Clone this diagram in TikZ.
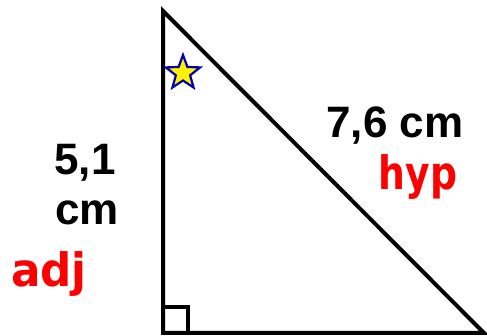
\documentclass[tikz,border=0pt]{standalone}
\usepackage{fontspec}
\setmainfont{Liberation Sans}
\newfontfamily\handfont{DejaVu Sans}
\usetikzlibrary{shapes.geometric}
\begin{document}
\begin{tikzpicture}[x=1pt,y=-1pt,
  side/.style={line width=4pt, line join=miter},
  measure/.style={font=\fontsize{44}{48}\selectfont\bfseries, inner sep=0pt, anchor=base},
  hand/.style={font=\fontsize{46}{50}\handfont\bfseries, text=red, inner sep=0pt, anchor=base}]
\useasboundingbox (0,0) rectangle (487,336);
\fill[white] (0,0) rectangle (487,336);
\coordinate (A) at (163,11);
\coordinate (B) at (163,333);
\coordinate (C) at (484,333);
\draw[side] (A) -- (B) -- (C) -- cycle;
\coordinate (R1) at (163,307);
\coordinate (R2) at (188,307);
\coordinate (R3) at (188,333);
\draw[line width=3.5pt] (R1) -- (R2) -- (R3);
\node[star, star points=5, star point ratio=2.4, minimum size=36pt, inner sep=0pt,
  draw=blue!70!black, line width=2.2pt, fill=yellow] (star) at (183,73) {};
\node[measure] (a1) at (85,175) {5,1};
\node[measure] (a2) at (87,225) {cm};
\node[measure] (h1) at (395,138) {7,6 cm};
\node[hand, xscale=0.82] (hyp) at (418,190) {hyp};
\node[hand, xscale=0.95] (adj) at (49,287) {adj};
\end{tikzpicture}
\end{document}
